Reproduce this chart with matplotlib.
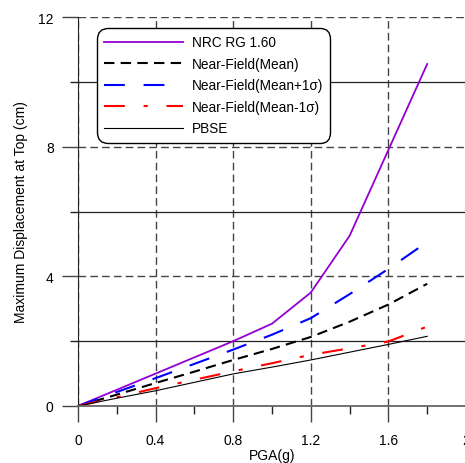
import matplotlib
matplotlib.use("Agg")
import matplotlib.pyplot as plt
from matplotlib.ticker import MultipleLocator

plt.rcParams['font.family'] = ['Liberation Sans', 'DejaVu Sans']

pga = [0, 0.2, 0.4, 0.6, 0.8, 1.0, 1.2, 1.4, 1.6, 1.8]
nrc = [0, 0.5, 1.0, 1.5, 2.0, 2.54, 3.5, 5.25, 7.9, 10.55]
nf_mean = [0, 0.35, 0.71, 1.06, 1.42, 1.76, 2.13, 2.6, 3.13, 3.77]
nf_plus = [0, 0.43, 0.86, 1.3, 1.74, 2.2, 2.71, 3.45, 4.23, 5.06]
nf_minus = [0, 0.27, 0.55, 0.81, 1.07, 1.32, 1.58, 1.78, 1.99, 2.45]
pbse = [0, 0.24, 0.47, 0.73, 0.99, 1.2, 1.42, 1.66, 1.90, 2.15]

labels = ['NRC RG 1.60', 'Near-Field(Mean)', 'Near-Field(Mean+1σ)',
          'Near-Field(Mean-1σ)', 'PBSE']

fig = plt.figure(figsize=(4.65, 4.64), dpi=100)
ax = fig.add_axes([78/465, 57/464, 388/465, 389/464])

gc = '#444444'
ax.set_xlim(0, 2)
ax.set_ylim(0, 12)
ax.xaxis.set_major_locator(MultipleLocator(0.4))
ax.xaxis.set_minor_locator(MultipleLocator(0.2))
ax.yaxis.set_major_locator(MultipleLocator(4))
ax.yaxis.set_minor_locator(MultipleLocator(2))
ax.set_xticks([0, 0.4, 0.8, 1.2, 1.6, 2.0])
ax.set_xticklabels(['0', '0.4', '0.8', '1.2', '1.6', '2'])
ax.set_yticks([0, 4, 8, 12])
ax.set_yticklabels(['0', '4', '8', '12'])

ax.grid(True, which='major', axis='both', color=gc, linestyle=(0, (5.5, 3)), linewidth=1.0)
ax.grid(True, which='minor', axis='y', color='#222222', linestyle='-', linewidth=0.9)
ax.set_axisbelow(True)

for s in ['top', 'right']:
    ax.spines[s].set_visible(False)
ax.spines['left'].set_color('#222222')
ax.spines['bottom'].set_color('#666666')
ax.spines['bottom'].set_linewidth(1.3)

ax.tick_params(which='major', length=11.5, width=1.0, color=gc, labelsize=10)
ax.tick_params(which='minor', length=5.8, width=1.0, color='#222222')
ax.tick_params(axis='x', which='major', pad=8)
ax.tick_params(axis='y', which='major', pad=6)

ax.plot(pga, nrc, color='#9400D3', lw=1.3, label=labels[0], clip_on=False)
ax.plot(pga, nf_mean, color='black', lw=1.5, linestyle=(0, (5, 3)), label=labels[1])
ax.plot(pga, nf_plus, color='#0000FF', lw=1.5, linestyle=(0, (10, 9)), label=labels[2])
ax.plot(pga, nf_minus, color='#FF0000', lw=1.5, linestyle=(0, (10, 9, 2, 9)), label=labels[3])
ax.plot(pga, pbse, color='black', lw=0.8, label=labels[4])

leg = ax.legend(loc='upper left', bbox_to_anchor=(19/388, 1 - 11/389), fontsize=9.8,
                handlelength=5.8, handletextpad=0.6, labelspacing=0.55,
                borderpad=0.55, borderaxespad=0, fancybox=True, framealpha=1,
                edgecolor='black')
leg.get_frame().set_linewidth(1.0)
leg.get_frame().set_boxstyle('round,pad=0,rounding_size=0.8')

ax.set_xlabel('PGA(g)', fontsize=10, labelpad=1)
ax.set_ylabel('Maximum Displacement at Top (cm)', fontsize=10, labelpad=7)

fig.savefig('out.png', dpi=100)
